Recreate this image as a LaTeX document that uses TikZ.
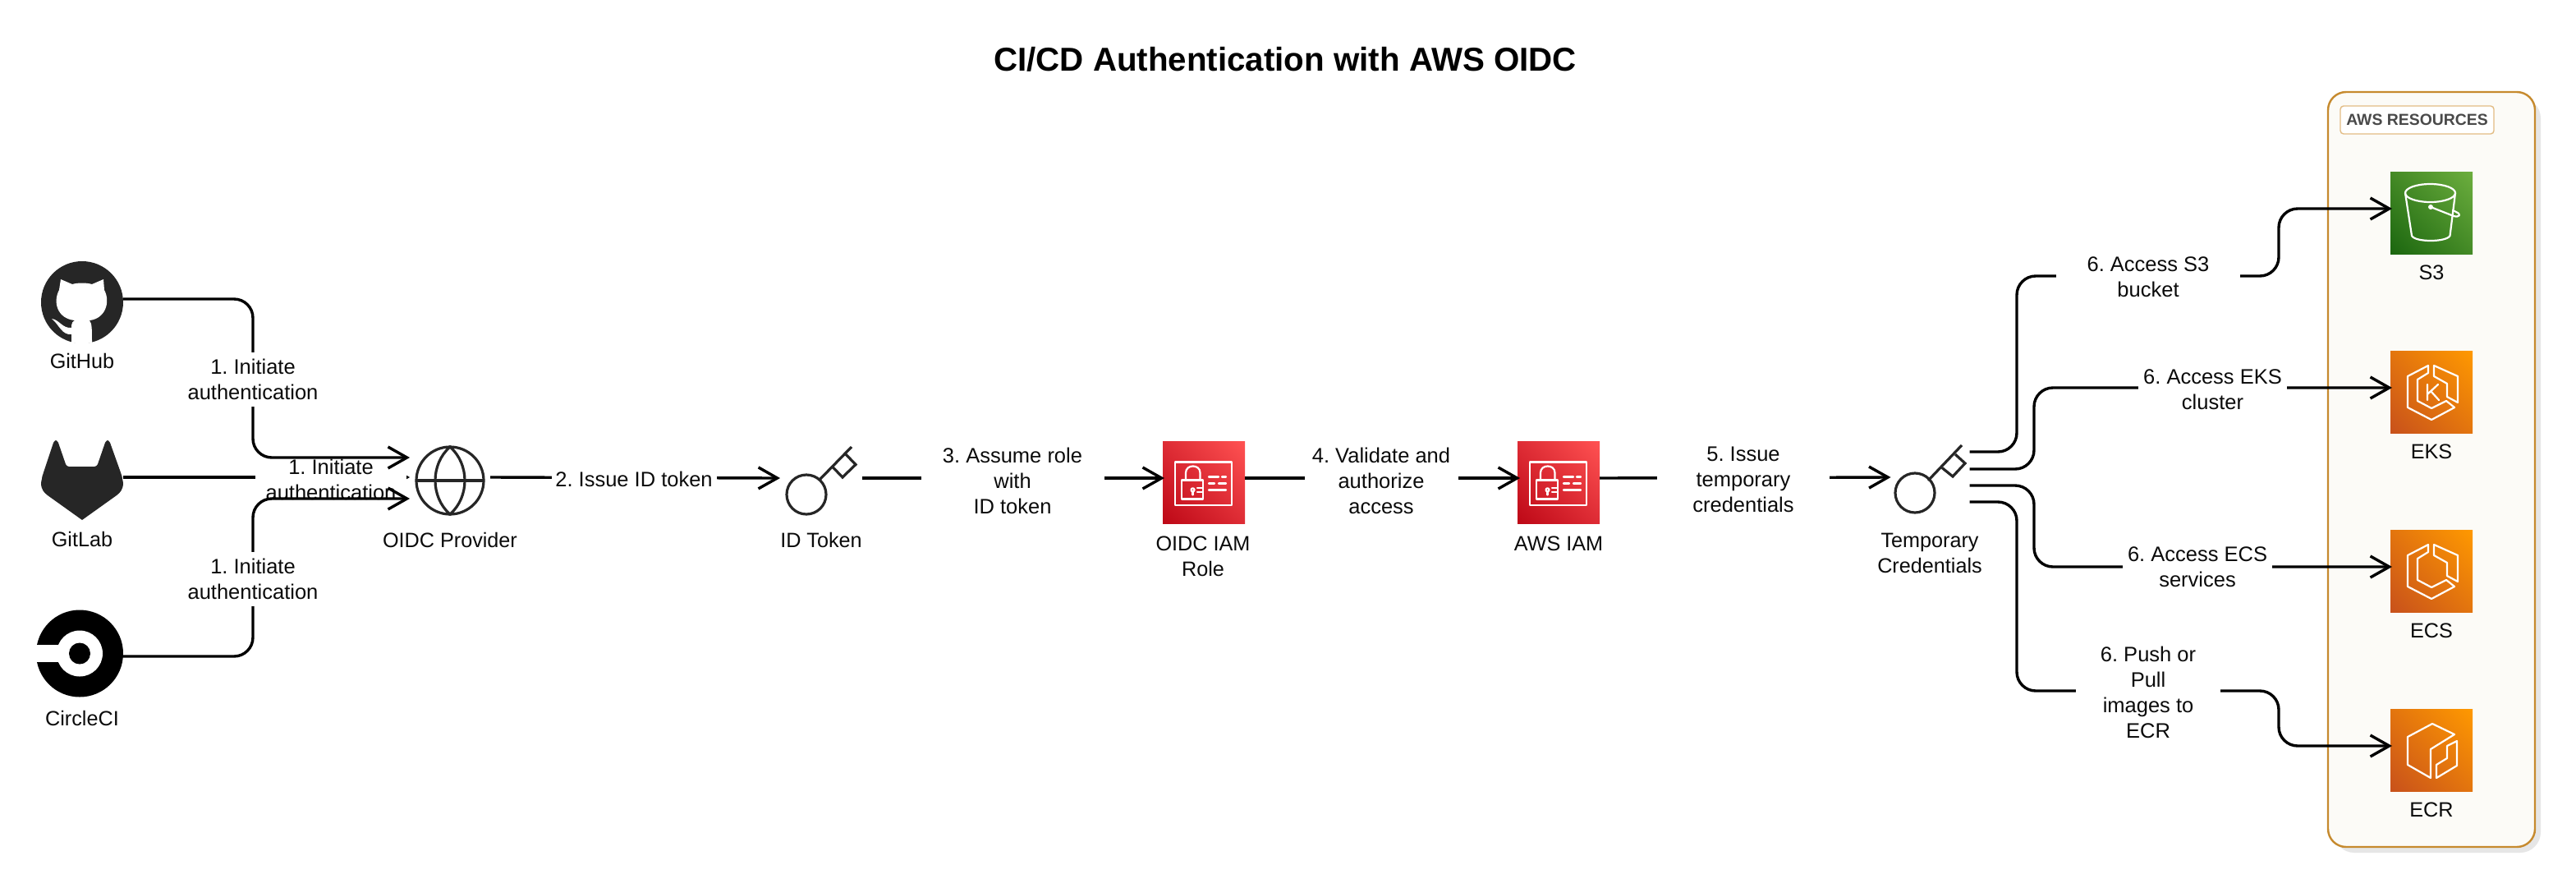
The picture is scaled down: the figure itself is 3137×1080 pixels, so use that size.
\documentclass[tikz,border=0pt]{standalone}
\usepackage{fontspec}
\setmainfont{Liberation Sans}
\frenchspacing
\usetikzlibrary{arrows.meta,shadings}
\definecolor{ink}{HTML}{0B0B0B}
\definecolor{glyphdark}{HTML}{262626}
\definecolor{boxline}{HTML}{C68A2E}
\definecolor{boxfill}{HTML}{FCFBF7}
\definecolor{boxshadow}{HTML}{E6E6E6}
\definecolor{tagline}{HTML}{E2BC84}
\definecolor{taginkc}{HTML}{4A4A4A}
\definecolor{redA}{HTML}{BD0816}\definecolor{redB}{HTML}{DE2C35}\definecolor{redC}{HTML}{FF5252}
\definecolor{grnA}{HTML}{1B660F}\definecolor{grnB}{HTML}{448A26}\definecolor{grnC}{HTML}{6CAE3E}
\definecolor{orgA}{HTML}{C8511B}\definecolor{orgB}{HTML}{E3750E}\definecolor{orgC}{HTML}{FF9900}
\tikzset{
  conn/.style={draw=black,line width=3.4pt,rounded corners=23pt,line join=round,-{Straight Barb[length=23pt,width=26pt,line width=3.4pt]}},
  edgelabel/.style={fill=white,align=center,inner sep=0pt,outer sep=0pt,text=ink,minimum height=66pt,minimum width=#1,yshift=-1.5pt,font=\fontsize{25.5}{31}\selectfont},
  iconlabel/.style={align=center,inner sep=0pt,text=ink,yshift=-1.5pt,font=\fontsize{25.2}{31}\selectfont},
  hollow/.style={inner sep=0pt,outer sep=0pt,minimum width=#1,minimum height=84pt},
  redsq/.style={shade,inner sep=0pt,outer sep=0pt,minimum size=100pt,lower left=redA,upper right=redC,upper left=redB,lower right=redB},
  grnsq/.style={shade,inner sep=0pt,outer sep=0pt,minimum size=100pt,lower left=grnA,upper right=grnC,upper left=grnB,lower right=grnB},
  orgsq/.style={shade,inner sep=0pt,outer sep=0pt,minimum size=100pt,lower left=orgA,upper right=orgC,upper left=orgB,lower right=orgB},
  glyph/.style={draw=white,line width=2.2pt,line join=round,line cap=round},
  keyline/.style={draw=glyphdark,line width=3.2pt,line join=miter},
}
\newcommand{\iamglyph}{%
  \draw[glyph] (15,25) rectangle (84,77.5);
  \draw[glyph] (23,47) rectangle (49,70);
  \draw[glyph] (28,47) -- (28,38) .. controls (28,27.3) and (45.5,27.3) .. (45.5,38) -- (45.5,47);
  \draw[glyph] (36.5,58.8) circle[radius=2pt];
  \draw[glyph] (36.5,61) -- (36.5,65);
  \draw[glyph] (42,56.4) -- (48,56.4) (42,61.5) -- (48,61.5);
  \draw[glyph] (56,43) -- (68,43) (72,43) -- (77,43);
  \draw[glyph] (56,51) -- (63,51) (68,51) -- (77,51);
  \draw[glyph] (56,59) -- (77,59);
}
\newcommand{\hexglyph}{%
  \draw[glyph] (46,18) -- (21,31) -- (21,69) -- (50,84) -- (78,69) -- (68,61) -- (50,70) -- (33,61) -- (33,35) -- (46,27) -- cycle;
  \draw[glyph] (53,18) -- (82,31) -- (82,63) -- (69,56) -- (69,40) -- (53,31) -- cycle;
}
\begin{document}
\begin{tikzpicture}[x=1pt,y=-1pt]
\useasboundingbox (0,0) rectangle (3137,1080);
\fill[white] (0,0) rectangle (3137,1080);

\node[font=\bfseries\fontsize{40.3}{48}\selectfont,text=black,inner sep=0pt] (title) at (1565,72) {CI/CD Authentication with AWS OIDC};

% container
\fill[boxshadow,rounded corners=25pt] (2842,119) rectangle (3094,1038);
\node[draw=boxline,fill=boxfill,line width=2.4pt,rounded corners=22pt,minimum width=252pt,minimum height=919pt,inner sep=0pt] (resources) at (2961,571.5) {};
\node[draw=tagline,fill=white,line width=1.4pt,rounded corners=4pt,minimum width=187pt,minimum height=34pt,inner sep=0pt,text=taginkc,font=\bfseries\fontsize{19.4}{24}\selectfont] (restag) at (2943.5,146) {AWS RESOURCES};

% GitHub
\node[circle,fill=glyphdark,minimum size=100pt,inner sep=0pt,outer sep=0pt] (github) at (100,368) {};
\fill[white] (74,340) -- (88,346) .. controls (95,344) and (105,344) .. (112,346) -- (126,340) -- (127,353)
  .. controls (135,368) and (128,388) .. (109,390) .. controls (112,394) and (112,400) .. (112,417) -- (100,419) -- (87,417) -- (87,407)
  .. controls (75,408) and (72,395) .. (63,388) .. controls (72,389) and (76,400) .. (87,399) -- (87,396) .. controls (87,393) and (89,391) .. (91,390)
  .. controls (70,388) and (64,368) .. (72,353) -- cycle;
\node[iconlabel] (githublabel) at (100,438) {GitHub};

% GitLab
\node[inner sep=0pt,outer sep=0pt,minimum width=100pt,minimum height=97pt] (gitlab) at (100,584.5) {};
\fill[glyphdark,rounded corners=3pt] (50,590) -- (52,578) -- (66,536) -- (70,536) -- (81,568) -- (118,568) -- (129,536) -- (133,536) -- (148,578) -- (150,590) -- (140,603);
\fill[glyphdark] (50,588) -- (52,578) -- (148,578) -- (150,588) .. controls (150,596) and (146,600) .. (142,603) -- (100,633) -- (58,603) .. controls (54,600) and (50,596) .. (50,588) -- cycle;
\node[iconlabel] (gitlablabel) at (100,655) {GitLab};

% CircleCI
\node[circle,fill=black,minimum size=106pt,inner sep=0pt,outer sep=0pt] (circleci) at (97,795.5) {};
\fill[white] (97,795.5) circle[radius=28pt];
\fill[white] (42,785) rectangle (75,806);
\fill[black] (97,795.5) circle[radius=13pt];
\node[iconlabel] (circlecilabel) at (100,873) {CircleCI};

% OIDC provider
\node[hollow=98pt] (oidc) at (548,585) {};
\draw[keyline] (548,585) circle[radius=41pt];
\draw[keyline] (507,585) -- (589,585);
\draw[keyline] (548,544) .. controls (524,565) and (524,605) .. (548,626) .. controls (572,605) and (572,565) .. (548,544) -- cycle;
\node[iconlabel] (oidclabel) at (548,656) {OIDC Provider};

% ID token key
\node[hollow=100pt] (idtoken) at (1000,582) {};
\draw[keyline] (982,602) circle[radius=24pt];
\draw[keyline] (998,584) -- (1037,544);
\draw[keyline] (1014,568.5) -- (1026,581) -- (1042,565.5) -- (1029,552);
\node[iconlabel] (idtokenlabel) at (1000,656) {ID Token};

% IAM squares
\node[redsq] (iamrole) at (1466,587.5) {};
\begin{scope}[shift={(iamrole.north west)}]\iamglyph\end{scope}
\node[iconlabel] (iamrolelabel) at (1465,675.5) {OIDC IAM\\Role};
\node[redsq] (awsiam) at (1898,587.5) {};
\begin{scope}[shift={(awsiam.north west)}]\iamglyph\end{scope}
\node[iconlabel] (awsiamlabel) at (1898,660) {AWS IAM};

% Temporary credentials key
\node[hollow=96pt] (tempkey) at (2350.5,581) {};
\draw[keyline] (2332,600) circle[radius=24pt];
\draw[keyline] (2348,585) -- (2389,542);
\draw[keyline] (2365,569.5) -- (2378,580) -- (2393,564) -- (2381,553);
\node[iconlabel] (tempkeylabel) at (2350,672) {Temporary\\Credentials};

% Resources
\node[grnsq] (s3) at (2961,259) {};
\begin{scope}[shift={(s3.north west)}]
  \draw[glyph] (48.5,26) ellipse[x radius=30.5pt,y radius=11pt];
  \draw[glyph] (18,26) -- (26,78) .. controls (30,86) and (68,86) .. (72.5,78) -- (79,26);
  \fill[white] (49,43) circle[radius=3pt];
  \draw[glyph] (49,43) -- (77,54) .. controls (84,56) and (87,52) .. (80,49) -- (76,47);
\end{scope}
\node[iconlabel] (s3label) at (2961,330) {S3};
\node[orgsq] (eks) at (2961,477) {};
\begin{scope}[shift={(eks.north west)}]
  \hexglyph
  \draw[glyph] (45,41) -- (45,60) (58,41) -- (45,53) (49,49) -- (59,60);
\end{scope}
\node[iconlabel] (ekslabel) at (2961,548) {EKS};
\node[orgsq] (ecs) at (2961,695) {};
\begin{scope}[shift={(ecs.north west)}]\hexglyph\end{scope}
\node[iconlabel] (ecslabel) at (2961,766) {ECS};
\node[orgsq] (ecr) at (2961,913) {};
\begin{scope}[shift={(ecr.north west)}]
  \draw[glyph] (51,18) -- (21,34) -- (21,68) -- (49,84) -- (49,49) -- (78,31) -- cycle;
  \draw[glyph] (81,39) -- (81,69) -- (56,84) -- (56,68) -- (69,60) -- (69,45) -- cycle;
\end{scope}
\node[iconlabel] (ecrlabel) at (2961,984) {ECR};

% GitLab edge goes under the label and the other two edges go over it
\draw[conn] ([yshift=3.5pt]gitlab.east) -- ([yshift=4pt]oidc.west);
\node[edgelabel=184pt] (l1b) at (403,582) {1. Initiate\\authentication};

\draw[conn] ([yshift=4pt]github.east) -- (308,364) -- (308,557) -- ([yshift=28pt]oidc.west);
\draw[conn] ([yshift=-3.5pt]circleci.east) -- (308,799) -- (308,607) -- ([yshift=-22pt]oidc.west);
\node[edgelabel=176pt] (l1a) at (308,460) {1. Initiate\\authentication};
\node[edgelabel=176pt] (l1c) at (308,703) {1. Initiate\\authentication};

\draw[conn] ([yshift=4pt]oidc.east) -- (idtoken.west);
\node[edgelabel=201pt] (l2) at (772,582) {2. Issue ID token};

\draw[conn] (idtoken.east) -- ([yshift=5.5pt,xshift=2pt]iamrole.west);
\node[edgelabel=223pt] (l3) at (1233,584) {3. Assume role\\with\\ID token};

\draw[conn] ([yshift=5.5pt]iamrole.east) -- ([yshift=5.5pt,xshift=3pt]awsiam.west);
\node[edgelabel=187pt] (l4) at (1682,584) {4. Validate and\\authorize\\access};

\draw[conn] ([yshift=5.5pt]awsiam.east) -- (tempkey.west);
\node[edgelabel=210pt] (l5) at (2123,582) {5. Issue\\temporary\\credentials};

\draw[conn] ([yshift=31pt]tempkey.east) -- (2456,550) -- (2456,336) -- (2775,336) -- (2775,254) -- ([yshift=5pt,xshift=2pt]s3.west);
\node[edgelabel=224pt] (l6a) at (2616,335.5) {6. Access S3\\bucket};

\draw[conn] ([yshift=10pt]tempkey.east) -- (2477,571) -- (2477,472) -- ([yshift=5pt,xshift=2pt]eks.west);
\node[edgelabel=181pt] (l6b) at (2694.5,472.5) {6. Access EKS\\cluster};

\draw[conn] ([yshift=-10pt]tempkey.east) -- (2477,591) -- (2477,690) -- ([yshift=5pt,xshift=2pt]ecs.west);
\node[edgelabel=182pt] (l6c) at (2676,688.5) {6. Access ECS\\services};

\draw[conn] ([yshift=-30pt]tempkey.east) -- (2456,611) -- (2456,841) -- (2775,841) -- (2775,908) -- ([yshift=5pt,xshift=2pt]ecr.west);
\node[edgelabel=176pt] (l6d) at (2616,841.5) {6. Push or\\Pull\\images to\\ECR};
\end{tikzpicture}
\end{document}
